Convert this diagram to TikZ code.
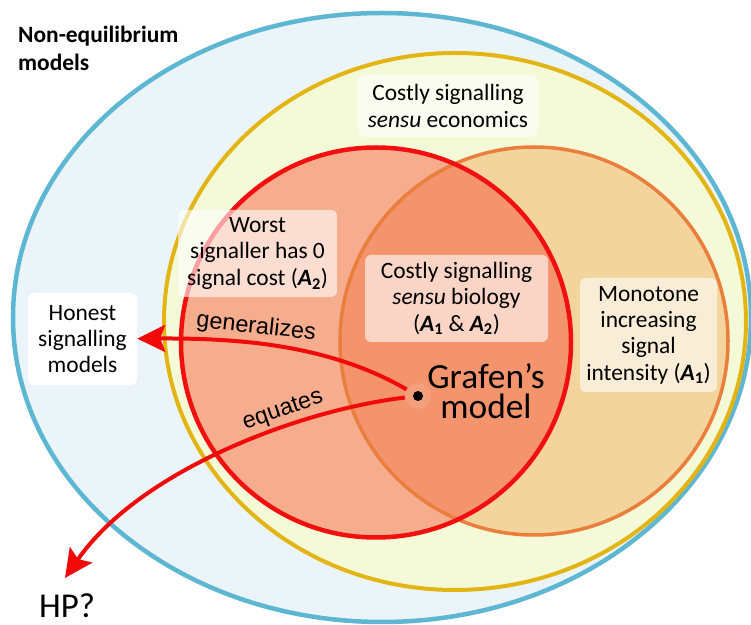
\documentclass[tikz,border=0pt]{standalone}
\usepackage{fontspec}
\setmainfont{Carlito}
\newfontfamily\labelfont{Liberation Sans}
\usetikzlibrary{arrows.meta}

\definecolor{blueline}{HTML}{5DB7D2}
\definecolor{bluefill}{HTML}{EBF5F9}
\definecolor{yellowline}{HTML}{E3B514}
\definecolor{yellowfill}{HTML}{F4F9D7}
\definecolor{redline}{HTML}{F20F0F}
\definecolor{redfill}{HTML}{F5AD8E}
\definecolor{orangeline}{HTML}{EA7E3C}
\definecolor{orangefill}{HTML}{F2D49C}
\definecolor{bothfill}{HTML}{F3946D}
\definecolor{arrowred}{HTML}{F00A0A}

\newcommand{\assm}[1]{\textbf{\textit{A}\textsubscript{#1}}}

\tikzset{
  setbox/.style={fill=white, fill opacity=0.6, text opacity=1, rounded corners=6bp,
    align=center, inner sep=0pt, font=\fontsize{23.5}{26.5}\selectfont},
  relarrow/.style={draw=arrowred, line width=4bp, -{Stealth[length=28bp,width=27bp,inset=5bp]}},
  rellabel/.style={font=\labelfont\fontsize{23.5}{25}\selectfont, sloped, above},
}

\begin{document}
\begin{tikzpicture}[>=latex,line join=bevel,]
\useasboundingbox (0bp,0bp) rectangle (751bp,625bp);
\fill[white] (0bp,0bp) rectangle (751bp,625bp);
%% sets
\filldraw[fill=bluefill, draw=blueline, line width=4.5bp] (382bp,307.5bp) ellipse [x radius=369bp, y radius=304.5bp];
\filldraw[fill=yellowfill, draw=yellowline, line width=4bp] (455bp,303.5bp) ellipse [x radius=291bp, y radius=268.5bp];
\fill[orangefill] (534bp,284bp) circle [radius=194bp];
\fill[redfill] (376bp,282.5bp) circle [radius=195bp];
\begin{scope}
  \clip (376bp,282.5bp) circle [radius=195bp];
  \fill[bothfill] (534bp,284bp) circle [radius=194bp];
\end{scope}
\draw[orangeline, line width=3.5bp] (534bp,284bp) circle [radius=194bp];
\draw[redline, line width=4.5bp] (376bp,282.5bp) circle [radius=195bp];
%% labels
\node (node_noneq) at (18bp,599.5bp) [anchor=north west, align=left, inner sep=0pt, font=\bfseries\fontsize{23.5}{28}\selectfont] {Non-equilibrium\\models};
  \node (node_econ) at (448bp,519bp) [setbox, minimum width=180bp, minimum height=62bp] {Costly signalling\\\textit{sensu} economics};
  \node (node_worst) at (257.5bp,371.5bp) [setbox, minimum width=159bp, minimum height=87bp] {Worst\\signaller has 0\\signal cost (\assm{2})};
  \node (node_bio) at (456.5bp,326.5bp) [setbox, minimum width=183bp, minimum height=87bp] {Costly signalling\\\textit{sensu} biology\\(\assm{1} \& \assm{2})};
  \node (node_mono) at (648.5bp,290bp) [setbox, minimum width=137bp, minimum height=114bp] {Monotone\\increasing\\signal\\intensity (\assm{1})};
  \node (node_honest) at (82.5bp,286bp) [setbox, fill opacity=1, minimum width=109bp, minimum height=92bp] {Honest\\signalling\\models};
  \node (node_grafen) at (486bp,234bp) [align=center, font=\fontsize{35.5}{30}\selectfont] {Grafen's\\model};
  \node (node_dot) at (418bp,229bp) [circle, fill=bothfill!90!white, minimum size=26bp, inner sep=0pt,
    path picture={\fill[black] (path picture bounding box.center) circle [radius=5bp];}] {};
  \node (node_hp) at (67bp,8bp) [anchor=base, inner sep=0pt, font=\fontsize{35}{38}\selectfont] {HP?};
%% relations
\draw [relarrow] (node_dot) ..controls (330bp,280bp) and (240bp,287bp) .. (node_honest) node [rellabel, pos=0.6] {generalizes};
  \draw [relarrow] (node_dot) ..controls (300bp,215bp) and (140bp,155bp) .. ([xshift=-2bp,yshift=15bp]node_hp.north) node [rellabel, pos=0.33] {equates};
%
\end{tikzpicture}
\end{document}
